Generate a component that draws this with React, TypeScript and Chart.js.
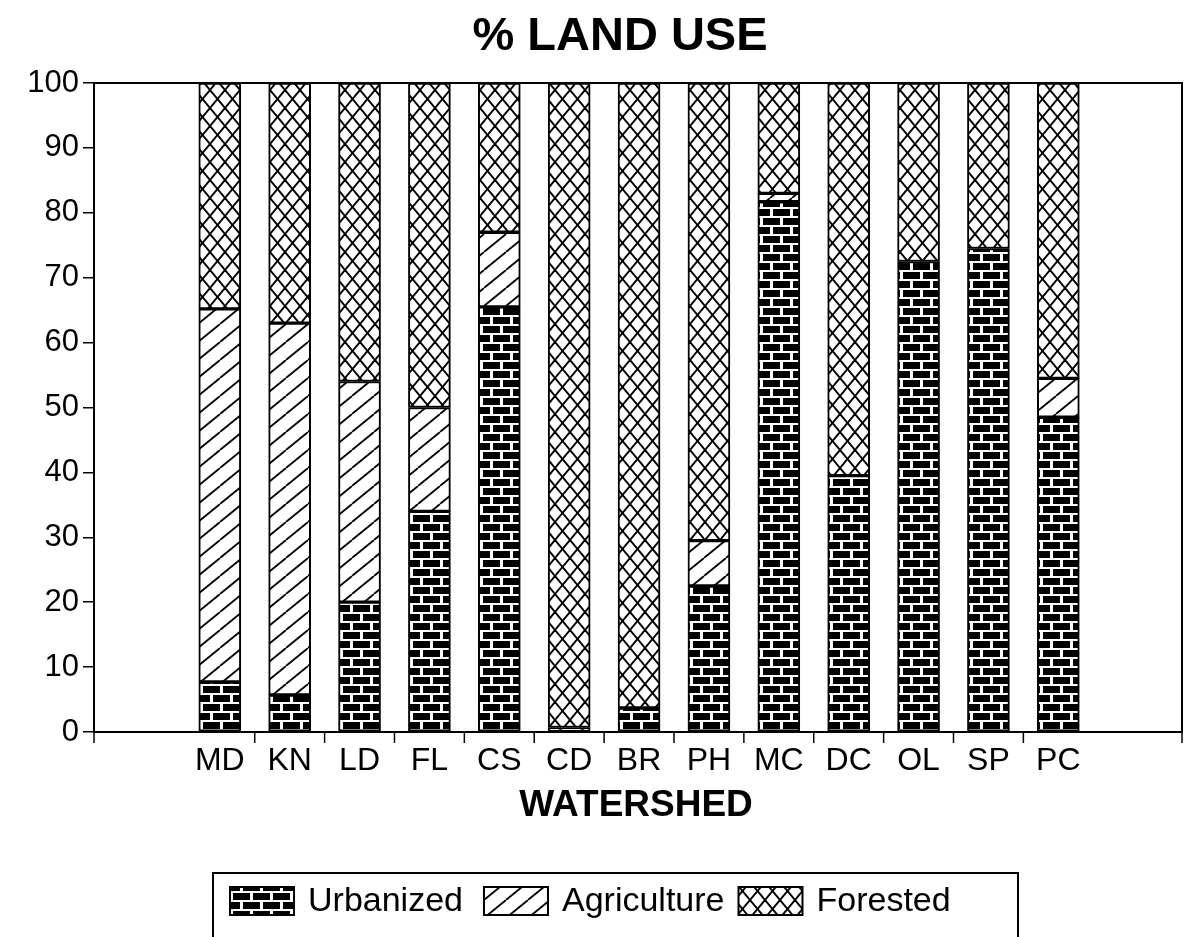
import React, { useEffect, useRef } from "react";
import { Chart, registerables } from "chart.js";

Chart.register(...registerables);

const categories = ["MD", "KN", "LD", "FL", "CS", "CD", "BR", "PH", "MC", "DC", "OL", "SP", "PC"];
const urbanized = [7.7, 5.7, 20, 34, 65.5, 0, 3.7, 22.5, 81.7, 39.5, 72.5, 74.5, 48.5];
const agriculture = [57.5, 57.3, 34, 16, 11.5, 0.7, 0, 7, 1.3, 0, 0, 0, 6];
const forested = [34.8, 37, 46, 50, 23, 99.3, 96.3, 70.5, 17, 60.5, 27.5, 25.5, 45.5];
const yTicks = [0, 10, 20, 30, 40, 50, 60, 70, 80, 90, 100];
const seriesNames = ["Urbanized", "Agriculture", "Forested"];
const titleText = "% LAND USE";
const xTitleText = "WATERSHED";

const FONT = "'Liberation Sans', Arial, Helvetica, sans-serif";

function makeTile(w: number, h: number, draw: (c: CanvasRenderingContext2D) => void) {
  const cv = document.createElement("canvas");
  cv.width = w;
  cv.height = h;
  const c = cv.getContext("2d")!;
  draw(c);
  return c.createPattern(cv, "repeat")!;
}

function brickPattern() {
  return makeTile(40, 18, (c) => {
    c.fillStyle = "#000";
    c.fillRect(0, 0, 40, 18);
    c.fillStyle = "#fff";
    c.fillRect(0, 0, 40, 2);
    c.fillRect(0, 9, 40, 2);
    c.fillRect(0, 2, 3, 7);
    c.fillRect(20, 2, 3, 7);
    c.fillRect(10, 11, 3, 7);
    c.fillRect(30, 11, 3, 7);
  });
}

function hatchPattern() {
  return makeTile(22, 18, (c) => {
    c.fillStyle = "#fff";
    c.fillRect(0, 0, 22, 18);
    c.strokeStyle = "#000";
    c.lineWidth = 1.8;
    for (const dx of [-22, 0, 22]) {
      c.beginPath();
      c.moveTo(dx, 18);
      c.lineTo(dx + 22, 0);
      c.stroke();
    }
  });
}

function crossPattern() {
  return makeTile(15, 18, (c) => {
    c.fillStyle = "#fff";
    c.fillRect(0, 0, 15, 18);
    c.strokeStyle = "#000";
    c.lineWidth = 1.9;
    for (const dx of [-15, 0, 15]) {
      c.beginPath();
      c.moveTo(dx, 18);
      c.lineTo(dx + 15, 0);
      c.stroke();
      c.beginPath();
      c.moveTo(dx, 0);
      c.lineTo(dx + 15, 18);
      c.stroke();
    }
  });
}

export default function App() {
  const ref = useRef<HTMLCanvasElement | null>(null);

  useEffect(() => {
    document.body.style.margin = "0";
    const canvas = ref.current!;
    const patterns = [brickPattern(), hatchPattern(), crossPattern()];
    const values = [urbanized, agriculture, forested];

    const decor = {
      id: "decor",
      afterDraw(chart: any) {
        const ctx = chart.ctx as CanvasRenderingContext2D;
        const a = chart.chartArea;
        const xs = chart.scales.x;
        ctx.save();
        // plot frame
        ctx.strokeStyle = "#000";
        ctx.lineWidth = 2;
        ctx.strokeRect(a.left, a.top, a.right - a.left, a.bottom - a.top);
        // x tick marks between categories
        ctx.lineWidth = 1.5;
        const marks = [a.left, a.right];
        for (let i = 0; i < categories.length - 1; i++) marks.push(xs.getPixelForValue(i + 0.5));
        marks.forEach((px) => {
          ctx.beginPath();
          ctx.moveTo(px, a.bottom);
          ctx.lineTo(px, a.bottom + 11);
          ctx.stroke();
        });
        // title
        ctx.fillStyle = "#000";
        ctx.textAlign = "center";
        ctx.textBaseline = "middle";
        ctx.font = `bold 47px ${FONT}`;
        ctx.fillText(titleText, 620, 37);
        // x title
        ctx.font = `bold 37px ${FONT}`;
        ctx.fillText(xTitleText, 636, 806);
        // legend
        ctx.lineWidth = 2;
        ctx.strokeRect(213, 873, 805, 120);
        ctx.font = `34px ${FONT}`;
        ctx.textAlign = "left";
        let x = 230;
        const gaps = [21, 14, 0];
        seriesNames.forEach((name, i) => {
          ctx.fillStyle = patterns[i] as any;
          ctx.fillRect(x, 887, 64, 28);
          ctx.strokeStyle = "#000";
          ctx.lineWidth = 2;
          ctx.strokeRect(x, 887, 64, 28);
          ctx.fillStyle = "#000";
          const tx = x + 78;
          ctx.fillText(name, tx, 902);
          x = tx + ctx.measureText(name).width + gaps[i];
        });
        ctx.restore();
      },
    };

    const chart = new Chart(canvas, {
      type: "bar",
      data: {
        datasets: seriesNames.map((name, si) => ({
          label: name,
          data: categories.map((_, i) => ({ x: i, y: values[si][i] })),
          backgroundColor: patterns[si] as any,
          borderColor: "#000",
          borderWidth: 2,
          borderSkipped: false,
          barThickness: 42,
        })),
      },
      options: {
        animation: false,
        responsive: false,
        devicePixelRatio: 1,
        layout: { padding: { top: 83, right: 7, left: 0, bottom: 0 } },
        plugins: {
          legend: { display: false },
          title: { display: false },
          tooltip: { enabled: false },
        },
        scales: {
          x: {
            type: "linear",
            stacked: true,
            offset: false,
            min: -1.8,
            max: 13.77,
            afterFit: (s: any) => {
              s.height = 205;
            },
            afterBuildTicks: (s: any) => {
              s.ticks = categories.map((_, i) => ({ value: i }));
            },
            grid: { display: false, drawTicks: false },
            border: { display: true, color: "#000", width: 2 },
            ticks: {
              autoSkip: false,
              maxRotation: 0,
              padding: 10,
              color: "#000",
              font: { family: FONT, size: 32 },
              callback: (v: any) => categories[Number(v)] ?? "",
            },
          },
          y: {
            stacked: true,
            min: 0,
            max: 100,
            afterFit: (s: any) => {
              s.width = 94;
            },
            afterBuildTicks: (s: any) => {
              s.ticks = yTicks.map((v) => ({ value: v }));
            },
            grid: {
              drawOnChartArea: false,
              drawTicks: true,
              tickLength: 11,
              color: "#000",
              lineWidth: 1.5,
            },
            border: { display: true, color: "#000", width: 2 },
            ticks: {
              padding: 4,
              color: "#000",
              font: { family: FONT, size: 31 },
            },
          },
        },
      },
      plugins: [decor],
    });
    return () => chart.destroy();
  }, []);

  return <canvas ref={ref} width={1189} height={937} style={{ display: "block" }} />;
}
